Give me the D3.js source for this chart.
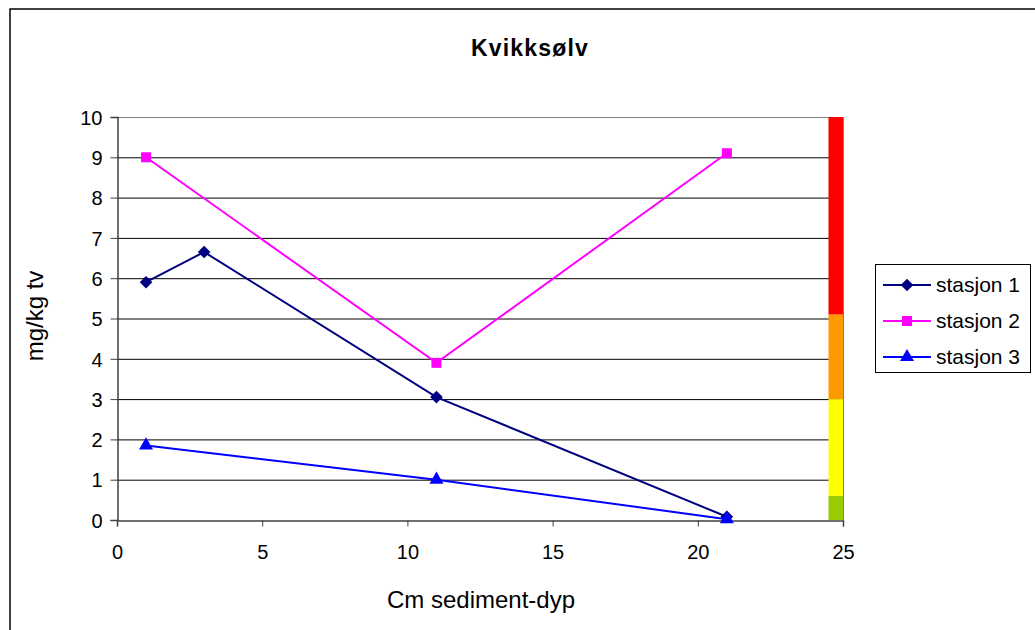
<!DOCTYPE html>
<html>
<head>
<meta charset="utf-8">
<script src="https://cdn.jsdelivr.net/npm/d3@7.9.0/dist/d3.min.js"></script>
<style>
  body { margin: 0; background: #fff; }
  svg { font-family: "Liberation Sans", Arial, sans-serif; }
</style>
</head>
<body>
<svg width="1035" height="630"></svg>
<script>
// data
const depth1 = [1, 3, 11, 21];
const station1 = [5.9, 6.65, 3.05, 0.08];
const depth2 = [1, 11, 21];
const station2 = [9.0, 3.9, 9.1];
const depth3 = [1, 11, 21];
const station3 = [1.85, 1.0, 0.02];

const seriesNames = ['stasjon 1', 'stasjon 2', 'stasjon 3'];
const xTicks = [0, 5, 10, 15, 20, 25];
const yTicks = [0, 1, 2, 3, 4, 5, 6, 7, 8, 9, 10];

// class limits shown as the coloured bar on the right
const classBands = [
  { from: 0, to: 0.6, color: '#99cc00' },
  { from: 0.6, to: 3.0, color: '#ffff00' },
  { from: 3.0, to: 5.1, color: '#ff9900' },
  { from: 5.1, to: 10, color: '#ff0000' }
];

const series = [
  { name: seriesNames[0], xs: depth1, ys: station1, color: '#000080', symbol: d3.symbolSquare, size: 80, rotate: 45 },
  { name: seriesNames[1], xs: depth2, ys: station2, color: '#ff00ff', symbol: d3.symbolSquare, size: 100, rotate: 0 },
  { name: seriesNames[2], xs: depth3, ys: station3, color: '#0000ff', symbol: d3.symbolTriangle, size: 85, rotate: 0 }
];

const svg = d3.select('svg');

// outer chart frame
svg.append('rect')
  .attr('x', 10).attr('y', 9)
  .attr('width', 1040).attr('height', 640)
  .attr('fill', 'none').attr('stroke', '#000').attr('stroke-width', 1.5);

const plotLeft = 117, plotRight = 843, plotTop = 117, plotBottom = 520;

let x = d3.scaleLinear().domain([0, 25]).range([plotLeft, plotRight]);
let y = d3.scaleLinear().domain([0, 10]).range([plotBottom, plotTop]);

// gridlines
svg.append('g')
  .selectAll('line')
  .data(yTicks.filter(t => t > 0 && t < 10))
  .enter()
  .append('line')
  .attr('x1', plotLeft).attr('x2', plotRight)
  .attr('y1', d => y(d) + 0.5).attr('y2', d => y(d) + 0.5)
  .attr('stroke', '#000').attr('stroke-width', 1);

// plot area border (top and right)
svg.append('path')
  .attr('d', `M${plotLeft},${plotTop + 0.5}H${plotRight + 0.5}V${plotBottom}`)
  .attr('fill', 'none').attr('stroke', '#808080').attr('stroke-width', 1);

// coloured class bar
svg.append('g')
  .selectAll('rect')
  .data(classBands)
  .enter()
  .append('rect')
  .attr('x', x(24.5))
  .attr('width', x(25) - x(24.5))
  .attr('y', d => y(d.to))
  .attr('height', d => y(d.from) - y(d.to))
  .attr('fill', d => d.color);

// axes
let yAxis = d3.axisLeft(y).tickValues(yTicks).tickSize(7).tickPadding(8).tickFormat(d3.format('d'));
let xAxis = d3.axisBottom(x).tickValues(xTicks).tickSize(6).tickPadding(18).tickFormat(d3.format('d'));

let gy = svg.append('g').attr('transform', `translate(${plotLeft + 0.5},0)`).call(yAxis);
let gx = svg.append('g').attr('transform', `translate(0,${plotBottom + 0.5})`).call(xAxis);

[gx, gy].forEach(g => {
  g.select('.domain').attr('stroke', '#404040').attr('stroke-width', 1.5);
  g.selectAll('.tick line').attr('stroke', '#404040');
  g.selectAll('.tick text')
    .attr('fill', '#000')
    .style('font-size', '20px')
    .style('font-family', '"Liberation Sans", Arial, sans-serif');
});
gy.selectAll('.tick text').attr('dy', '0.36em');

// lines and markers
let lineGen = d3.line().x(d => x(d[0])).y(d => y(d[1]));

series.forEach(s => {
  let pts = s.xs.map((v, i) => [v, s.ys[i]]);
  svg.append('path')
    .datum(pts)
    .attr('d', lineGen)
    .attr('fill', 'none')
    .attr('stroke', s.color)
    .attr('stroke-width', 2);
  svg.append('g')
    .selectAll('path')
    .data(pts)
    .enter()
    .append('path')
    .attr('transform', d => `translate(${x(d[0])},${y(d[1])}) rotate(${s.rotate})`)
    .attr('d', d3.symbol().type(s.symbol).size(s.size))
    .attr('fill', s.color);
});

// title
svg.append('text')
  .attr('x', 530).attr('y', 56)
  .attr('text-anchor', 'middle')
  .style('font-size', '23px')
  .style('font-weight', 'bold')
  .style('letter-spacing', '1.2px')
  .text('Kvikksølv');

// axis titles
svg.append('text')
  .attr('x', 481).attr('y', 608)
  .attr('text-anchor', 'middle')
  .style('font-size', '24px')
  .text('Cm sediment-dyp');

svg.append('text')
  .attr('transform', 'translate(43,316) rotate(-90)')
  .attr('text-anchor', 'middle')
  .style('font-size', '24px')
  .text('mg/kg tv');

// legend
let legend = svg.append('g');
legend.append('rect')
  .attr('x', 875.5).attr('y', 264.5)
  .attr('width', 155).attr('height', 108)
  .attr('fill', '#fff').attr('stroke', '#000').attr('stroke-width', 1);

series.forEach((s, i) => {
  let ly = 285 + i * 36;
  legend.append('line')
    .attr('x1', 883).attr('x2', 931)
    .attr('y1', ly).attr('y2', ly)
    .attr('stroke', s.color).attr('stroke-width', 2);
  legend.append('path')
    .attr('transform', `translate(907,${ly}) rotate(${s.rotate})`)
    .attr('d', d3.symbol().type(s.symbol).size(s.size))
    .attr('fill', s.color);
  legend.append('text')
    .attr('x', 936).attr('y', ly + 7)
    .style('font-size', '21px')
    .text(s.name);
});
</script>
</body>
</html>
